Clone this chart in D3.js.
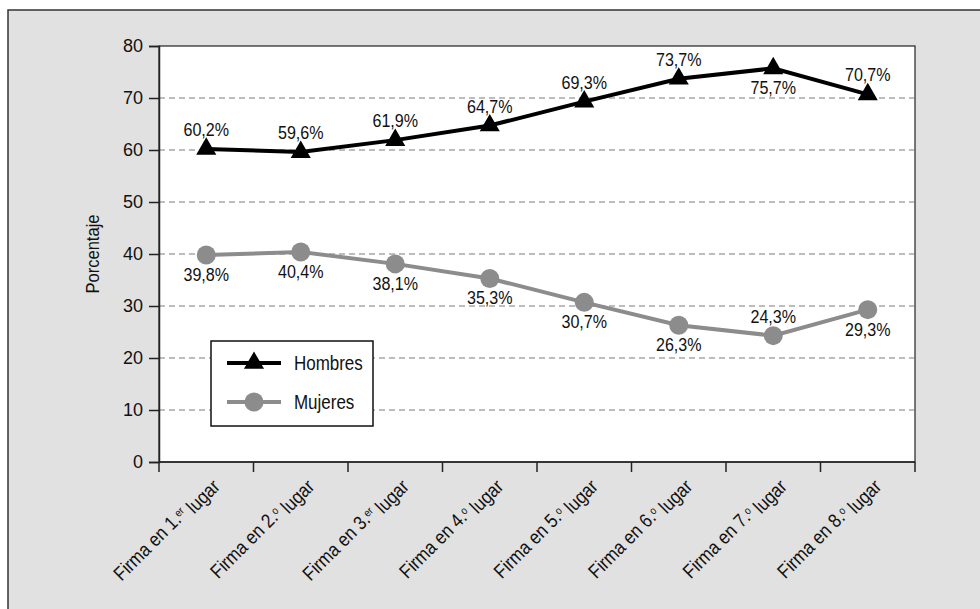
<!DOCTYPE html>
<head>
    <meta charset="utf-8">
    <script src="https://d3js.org/d3.v7.min.js"></script>
    <style>
        body {
            margin: 0;
            background: #fff;
        }
        svg text {
            font-family: "Liberation Sans", Arial, sans-serif;
            fill: #111;
        }
        .grid line {
            stroke: #7a7a7a;
            stroke-width: 1px;
            stroke-dasharray: 6,4;
        }
        .axis path, .axis line {
            stroke: #222;
            stroke-width: 1.5px;
        }
    </style>
</head>

<body>
<div id="vis"></div>

<script>
    // categories and values
    var puestos = ["1.", "2.", "3.", "4.", "5.", "6.", "7.", "8."];
    var sufijos = ["er", "o", "er", "o", "o", "o", "o", "o"];
    var hombres = [60.2, 59.6, 61.9, 64.7, 69.3, 73.7, 75.7, 70.7];
    var mujeres = [39.8, 40.4, 38.1, 35.3, 30.7, 26.3, 24.3, 29.3];
    var yTicks = [0, 10, 20, 30, 40, 50, 60, 70, 80];
    // label below (true) or above (false) the point
    var hombresAbajo = [false, false, false, false, false, false, true, false];
    var mujeresAbajo = [true, true, true, true, true, true, false, true];

    var W = 980, H = 609;
    var margin = {top: 46, right: 65, bottom: 147, left: 159},
        width = W - margin.left - margin.right,
        height = H - margin.top - margin.bottom;

    var narrow = 0.87;  // condensed look for some texts

    var svg = d3.select("#vis")
        .append("svg")
        .attr("width", W)
        .attr("height", H);

    // grey panel
    svg.append("rect")
        .attr("x", 8).attr("y", 10)
        .attr("width", W + 10).attr("height", H + 10)
        .attr("fill", "#e1e1e1")
        .attr("stroke", "#333")
        .attr("stroke-width", 1.5);

    var g = svg.append("g")
        .attr("transform", "translate(" + margin.left + "," + margin.top + ")");

    g.append("rect")
        .attr("width", width)
        .attr("height", height)
        .attr("fill", "#fff")
        .attr("stroke", "#222")
        .attr("stroke-width", 1.2);

    var x = d3.scaleBand()
        .domain(d3.range(puestos.length))
        .range([0, width]);

    var y = d3.scaleLinear()
        .domain([0, 80])
        .range([height, 0]);

    var cx = function(i) { return x(i) + x.bandwidth() / 2; };

    // grid
    g.append("g")
        .attr("class", "grid")
        .selectAll("line")
        .data(yTicks.filter(function(t) { return t > 0 && t < 80; }))
        .enter().append("line")
        .attr("x1", 0).attr("x2", width)
        .attr("y1", function(d) { return y(d); })
        .attr("y2", function(d) { return y(d); });

    // y axis
    var yAxis = g.append("g")
        .attr("class", "axis")
        .call(d3.axisLeft(y).tickValues(yTicks).tickSize(10).tickPadding(6));
    yAxis.selectAll("text")
        .style("font-size", "18px")
        .style("font-family", "'Liberation Sans', Arial, sans-serif");

    svg.append("text")
        .attr("transform", "translate(99," + (margin.top + height / 2) + ") rotate(-90) scale(" + narrow + ",1)")
        .attr("text-anchor", "middle")
        .style("font-size", "19px")
        .text("Porcentaje");

    // x axis: ticks at band edges
    var edges = d3.range(puestos.length).map(function(i) { return x(i); }).concat([width]);
    var xAxis = g.append("g")
        .attr("class", "axis")
        .attr("transform", "translate(0," + height + ")");
    xAxis.append("line")
        .attr("x1", 0).attr("x2", width);
    xAxis.selectAll(".tick")
        .data(edges)
        .enter().append("line")
        .attr("class", "tick")
        .attr("x1", function(d) { return d; })
        .attr("x2", function(d) { return d; })
        .attr("y1", 0).attr("y2", 10);

    var lab = xAxis.selectAll(".xlab")
        .data(puestos)
        .enter().append("text")
        .attr("class", "xlab")
        .attr("text-anchor", "end")
        .attr("transform", function(d, i) {
            return "translate(" + (cx(i) + 12) + ",23) rotate(-45) scale(" + narrow + ",1)";
        })
        .style("font-size", "19.5px");
    lab.append("tspan").text(function(d) { return "Firma en " + d; });
    lab.append("tspan")
        .attr("dy", "-0.45em")
        .style("font-size", "11px")
        .text(function(d, i) { return sufijos[i]; });
    lab.append("tspan")
        .attr("dy", "0.45em")
        .text(" lugar");

    // lines
    var line = d3.line()
        .x(function(d, i) { return cx(i); })
        .y(function(d) { return y(d); });

    g.append("path")
        .datum(mujeres)
        .attr("fill", "none")
        .attr("stroke", "#8c8c8c")
        .attr("stroke-width", 4)
        .attr("d", line);

    g.append("path")
        .datum(hombres)
        .attr("fill", "none")
        .attr("stroke", "#000")
        .attr("stroke-width", 4)
        .attr("d", line);

    var tri = d3.symbol().type(d3.symbolTriangle).size(175);

    g.selectAll(".mpt")
        .data(mujeres)
        .enter().append("circle")
        .attr("cx", function(d, i) { return cx(i); })
        .attr("cy", function(d) { return y(d); })
        .attr("r", 9.5)
        .attr("fill", "#8c8c8c");

    g.selectAll(".hpt")
        .data(hombres)
        .enter().append("path")
        .attr("d", tri)
        .attr("transform", function(d, i) { return "translate(" + cx(i) + "," + y(d) + ")"; })
        .attr("fill", "#000");

    var fmt = function(v) { return d3.format(".1f")(v).replace(".", ",") + "%"; };

    function labels(data, below) {
        g.selectAll(null)
            .data(data)
            .enter().append("text")
            .attr("transform", function(d, i) {
                return "translate(" + cx(i) + "," + (y(d) + (below[i] ? 26 : -13)) + ") scale(" + narrow + ",1)";
            })
            .attr("text-anchor", "middle")
            .style("font-size", "18.5px")
            .text(fmt);
    }
    labels(hombres, hombresAbajo);
    labels(mujeres, mujeresAbajo);

    // legend
    var leg = svg.append("g").attr("transform", "translate(211,341)");
    leg.append("rect")
        .attr("width", 162).attr("height", 85)
        .attr("fill", "#fff")
        .attr("stroke", "#111")
        .attr("stroke-width", 1.5);
    var items = [
        {name: "Hombres", color: "#000", tri: true, yy: 22},
        {name: "Mujeres", color: "#8c8c8c", tri: false, yy: 61}
    ];
    items.forEach(function(it) {
        leg.append("line")
            .attr("x1", 16).attr("x2", 70)
            .attr("y1", it.yy).attr("y2", it.yy)
            .attr("stroke", it.color)
            .attr("stroke-width", 4);
        if (it.tri) {
            leg.append("path").attr("d", tri)
                .attr("transform", "translate(43," + it.yy + ")")
                .attr("fill", it.color);
        } else {
            leg.append("circle").attr("cx", 43).attr("cy", it.yy).attr("r", 9.5)
                .attr("fill", it.color);
        }
        leg.append("text")
            .attr("transform", "translate(83," + it.yy + ") scale(" + narrow + ",1)")
            .attr("dy", "0.35em")
            .style("font-size", "19.5px")
            .text(it.name);
    });
</script>
</body>
